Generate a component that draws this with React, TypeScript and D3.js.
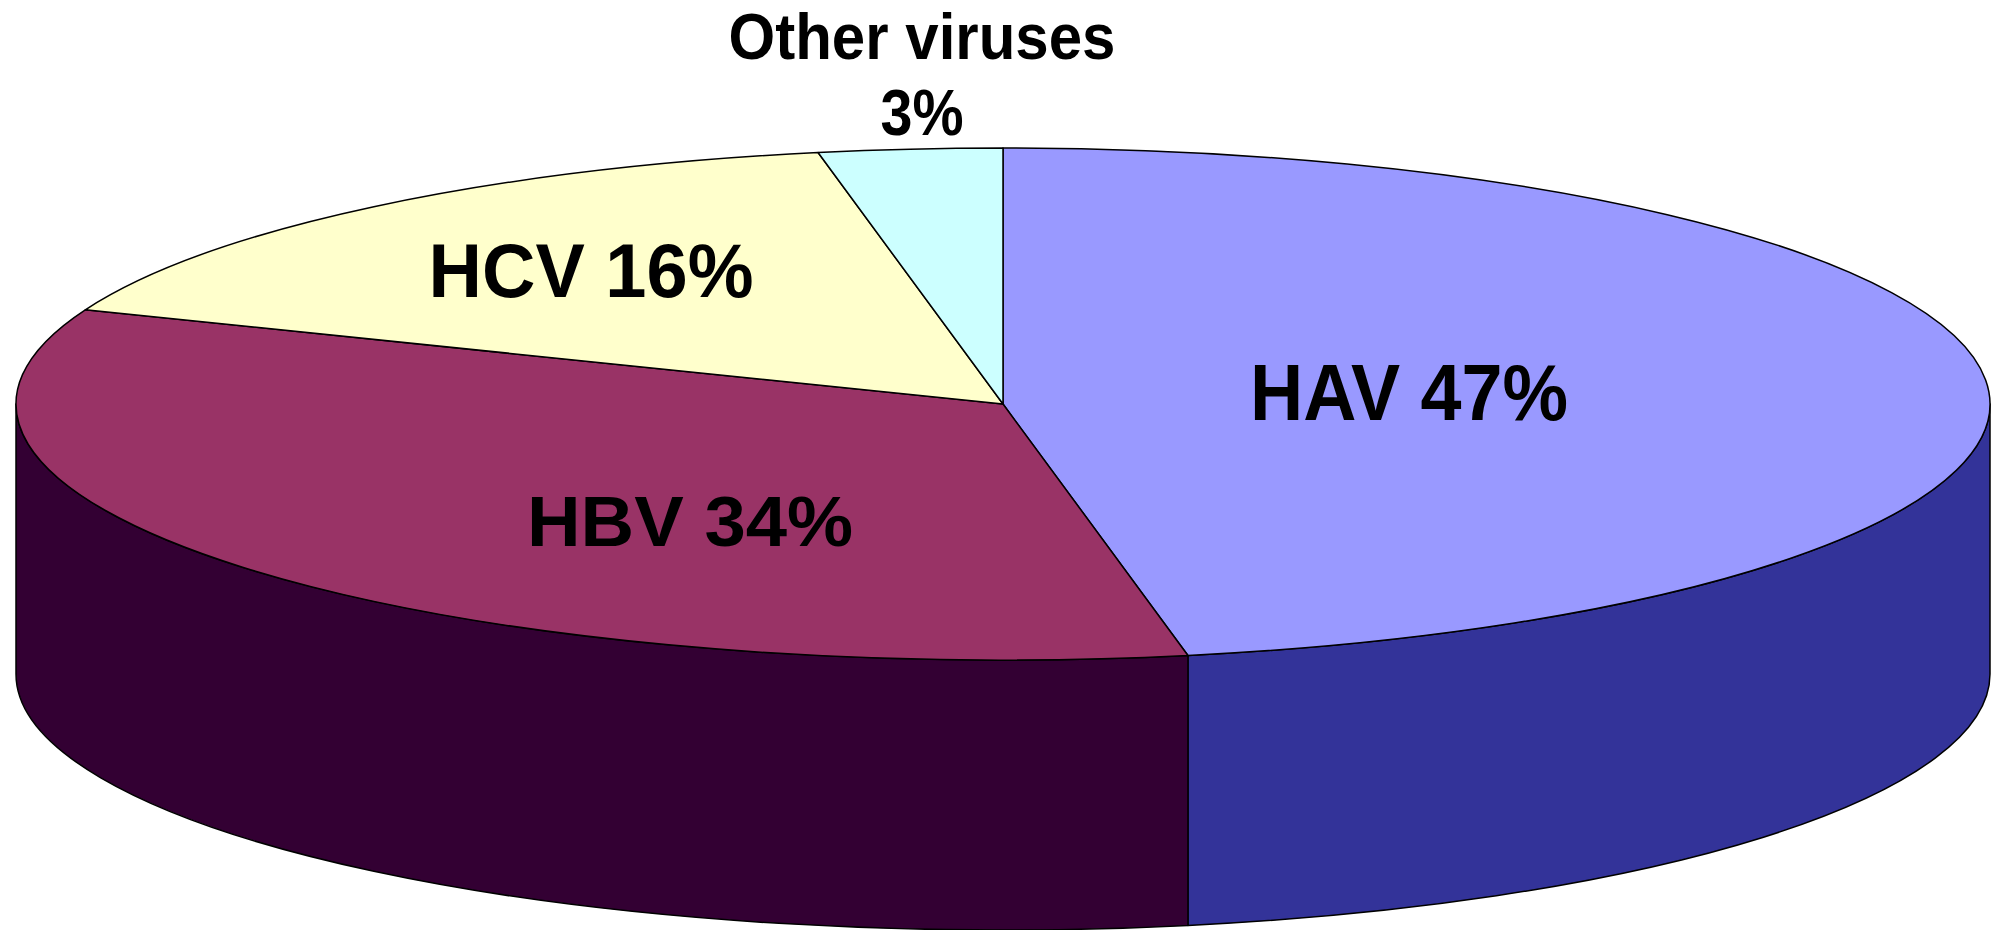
import React from "react";
import * as d3 from "d3";

// ---- data ----
const categories = ["HAV", "HBV", "HCV", "Other viruses"];
const values = [47, 34, 16, 3];
const labelLines = [["HAV 47%"], ["HBV 34%"], ["HCV 16%"], ["Other viruses", "3%"]];
const topColors = ["#9999FF", "#993366", "#FFFFCC", "#CCFFFF"];
const sideColors = ["#333399", "#330033", "#999966", "#669999"];

// ---- layout ----
const W = 1996;
const H = 930;
const cx = 1003;
const cy = 404;
const rx = 987;
const ry = 256;
const depth = 270;

// label layout: center x, baselines, font size, text width per line
const labelLayout = [
  { x: 1409, ys: [420], size: 80, widths: [318] },
  { x: 690, ys: [546], size: 71, widths: [326] },
  { x: 591, ys: [297], size: 76, widths: [325] },
  { x: 922, ys: [59, 135], size: 64, widths: [387, 83] },
];

function pt(a: number, dy = 0): [number, number] {
  return [cx + rx * Math.sin(a), cy - ry * Math.cos(a) + dy];
}

export default function App() {
  const pie = d3
    .pie<number>()
    .sort(null)
    .startAngle(0)
    .endAngle(2 * Math.PI)
    .value((d) => d);
  const arcs = pie(values);

  const topPath = (a0: number, a1: number) => {
    const p0 = pt(a0);
    const p1 = pt(a1);
    const large = a1 - a0 > Math.PI ? 1 : 0;
    return `M${cx},${cy}L${p0[0]},${p0[1]}A${rx},${ry} 0 ${large} 1 ${p1[0]},${p1[1]}Z`;
  };

  const wallPath = (a0: number, a1: number) => {
    const s = Math.max(a0, Math.PI / 2);
    const e = Math.min(a1, (3 * Math.PI) / 2);
    if (e <= s) return null;
    const p0 = pt(s);
    const p1 = pt(e);
    const q1 = pt(e, depth);
    const q0 = pt(s, depth);
    return `M${p0[0]},${p0[1]}A${rx},${ry} 0 0 1 ${p1[0]},${p1[1]}L${q1[0]},${q1[1]}A${rx},${ry} 0 0 0 ${q0[0]},${q0[1]}Z`;
  };

  return (
    <svg
      width={W}
      height={H}
      style={{ position: "absolute", left: 0, top: 0, display: "block", background: "#fff" }}
    >
      <g>
        {arcs.map((a, i) => {
          const d = wallPath(a.startAngle, a.endAngle);
          return d ? (
            <path
              key={"w" + i}
              d={d}
              fill={sideColors[i]}
              stroke="#000"
              strokeWidth={1.5}
              strokeLinejoin="round"
            />
          ) : null;
        })}
      </g>
      <g>
        {arcs.map((a, i) => (
          <path
            key={"t" + i}
            d={topPath(a.startAngle, a.endAngle)}
            fill={topColors[i]}
            stroke="#000"
            strokeWidth={1.5}
            strokeLinejoin="round"
          />
        ))}
      </g>
      <g fontFamily="'Liberation Sans', Arial, sans-serif" fontWeight="bold" fill="#000">
        {categories.map((c, i) =>
          labelLines[i].map((line, j) => (
            <text
              key={c + j}
              x={labelLayout[i].x}
              y={labelLayout[i].ys[j]}
              fontSize={labelLayout[i].size}
              textAnchor="middle"
              textLength={labelLayout[i].widths[j]}
              lengthAdjust="spacingAndGlyphs"
            >
              {line}
            </text>
          ))
        )}
      </g>
    </svg>
  );
}
